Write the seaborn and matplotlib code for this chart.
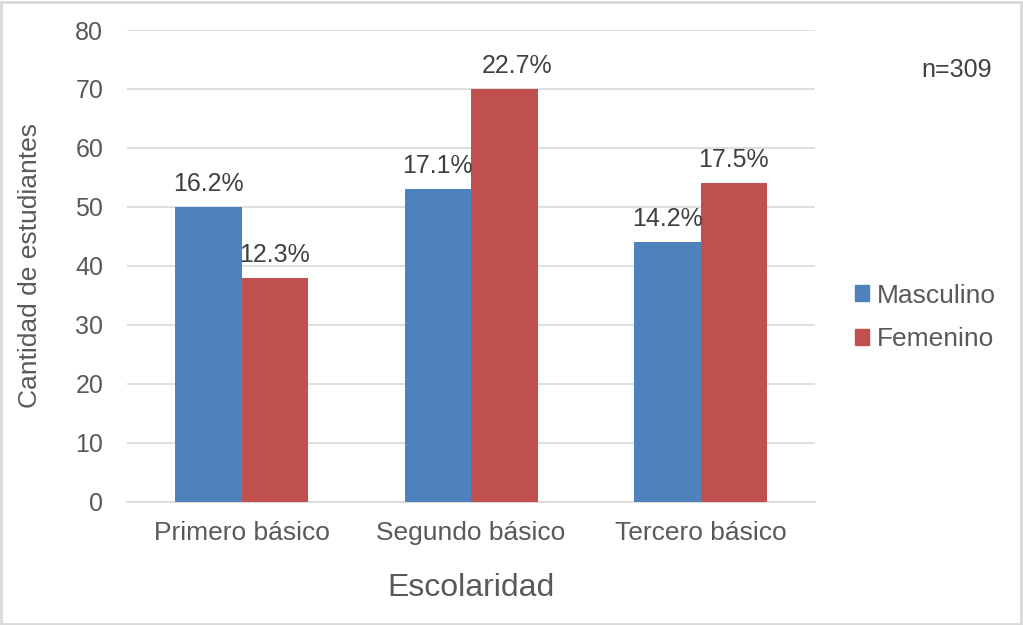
import matplotlib
matplotlib.use("Agg")
import matplotlib.pyplot as plt
import seaborn as sns
import pandas as pd
from matplotlib.patches import Rectangle

categorias = ["Primero básico", "Segundo básico", "Tercero básico"]
masculino = [50, 53, 44]
femenino = [38, 70, 54]
pct_masculino = ["16.2%", "17.1%", "14.2%"]
pct_femenino = ["12.3%", "22.7%", "17.5%"]
series = ["Masculino", "Femenino"]
colores = ["#4F81BD", "#C0504D"]
yticks = [0, 10, 20, 30, 40, 50, 60, 70, 80]

df = pd.DataFrame({
    "Escolaridad": categorias * 2,
    "Cantidad": masculino + femenino,
    "Sexo": [series[0]] * 3 + [series[1]] * 3,
})

sns.set_theme(style="white")
plt.rcParams["font.family"] = ["Liberation Sans", "DejaVu Sans"]
gray = "#595959"

fig = plt.figure(figsize=(10.23, 6.25), dpi=100)
ax = fig.add_axes([0.124, 0.197, 0.673, 0.755])

sns.barplot(data=df, x="Escolaridad", y="Cantidad", hue="Sexo",
            palette=colores, width=0.58, gap=0, ax=ax, saturation=1,
            edgecolor="none", linewidth=0, zorder=3)

ax.set_ylim(0, 80)
ax.set_xlim(-0.5, 2.5)
ax.set_yticks(yticks)
ax.yaxis.grid(True, color="#D9D9D9", linewidth=1.2, zorder=0)
ax.set_axisbelow(True)
for s in ["top", "right", "left"]:
    ax.spines[s].set_visible(False)
ax.spines["bottom"].set_color("#D9D9D9")
ax.spines["bottom"].set_linewidth(1.2)
ax.tick_params(axis="y", length=0, pad=17, labelsize=18, labelcolor=gray)
ax.tick_params(axis="x", length=0, pad=14, labelsize=19, labelcolor=gray)

ax.set_xlabel("Escolaridad", fontsize=23, color=gray, labelpad=20)
ax.set_ylabel("Cantidad de estudiantes", fontsize=19, color=gray, labelpad=24)

for cont, labs in zip(ax.containers, [pct_masculino, pct_femenino]):
    txts = ax.bar_label(cont, labels=labs, padding=8, fontsize=18, color="#404040")
    if labs is pct_femenino:
        txts[1].xyann = (9.5, 8)

handles = [Rectangle((0, 0), 1, 1, color=c) for c in colores]
ax.legend(handles, series, loc="center left", bbox_to_anchor=(0.813, 0.492),
          bbox_transform=fig.transFigure, frameon=False, fontsize=19,
          labelcolor=gray, handlelength=0.53, handleheight=0.53,
          handletextpad=0.3, labelspacing=0.75)

fig.text(0.935, 0.888, "n=309", fontsize=18, color="#404040",
         ha="center", va="center")

fig.patches.append(Rectangle((0.001, 0.002), 0.997, 0.995, transform=fig.transFigure,
                             fill=False, edgecolor="#D9D9D9", linewidth=2))

fig.savefig("out.png", dpi=100)
